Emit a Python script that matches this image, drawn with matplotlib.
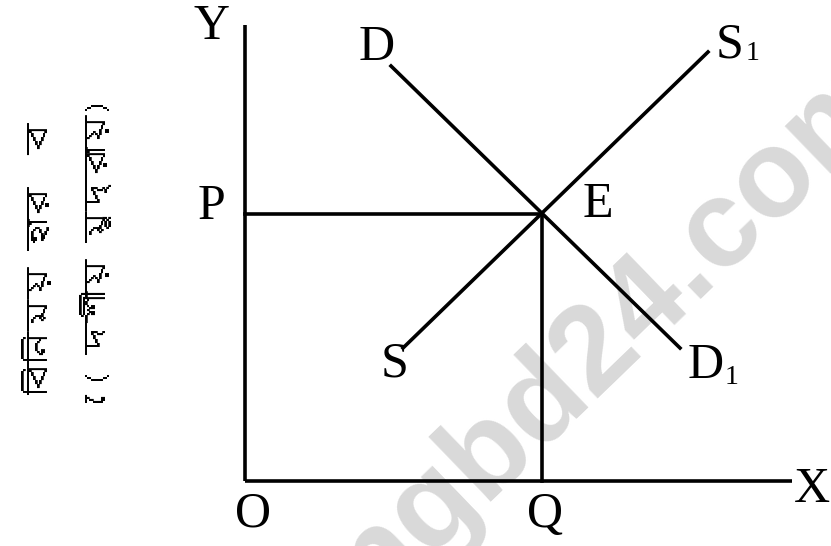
import matplotlib
matplotlib.use("Agg")
import matplotlib.pyplot as plt
from matplotlib import font_manager
from matplotlib.ft2font import FT2Font

# diagram geometry (origin at O, one unit = one pixel of the 831x546 picture)
axis_top = 456
axis_right = 547
eq_point = (297, 267)              # E
demand_x = [146, 435]              # D -> D1
demand_y = [415, 133]
supply_x = [158, 463]              # S -> S1
supply_y = [133, 429]

# point labels: text, x, y
labels = ["Y", "X", "O", "Q", "P", "E", "D", "S", "S", "D"]
label_x = [-33, 567, 8, 300, -34, 353, 132, 485, 150, 461]
label_y = [454, -9, -33, -34, 274, 276, 433, 436, 117, 115]
subs = ["1", "1"]
sub_x = [508, 487]
sub_y = [428, 104]

ylabel_lines = ["বিনিময় হার  ব", "(ে দশীয় মুদ্রায়)"]
ylabel_x = [-206, -133]
ylabel_y = 223

watermark = "ingbd24.com"


def bengali_family():
    # look for any installed font that has Bengali glyphs
    for f in font_manager.fontManager.ttflist:
        try:
            if 0x09AC in FT2Font(f.fname).get_charmap():
                return f.name
        except Exception:
            pass
    return None


bn = bengali_family()
bn_family = [bn, "DejaVu Sans"] if bn else ["Noto Sans", "DejaVu Sans"]

serif = "Liberation Serif"
lw = 2.6

fig = plt.figure(figsize=(8.31, 5.46), dpi=100)
ax = fig.add_axes([0, 0, 1, 1])
ax.set_xlim(-245, 586)
ax.set_ylim(-65, 481)
ax.axis("off")

# watermark behind everything
ax.text(358, 141, watermark, fontsize=90, fontweight="bold", family="Liberation Sans",
        color="#d9d9d9", rotation=44, rotation_mode="anchor", ha="center", va="center",
        zorder=0)

ax.plot([0, 0], [0, axis_top], color="black", lw=lw, solid_capstyle="butt")
ax.plot([0, axis_right], [0, 0], color="black", lw=lw, solid_capstyle="butt")
ax.plot([0, eq_point[0]], [eq_point[1], eq_point[1]], color="black", lw=lw)
ax.plot([eq_point[0], eq_point[0]], [0, eq_point[1]], color="black", lw=lw)
ax.plot(demand_x, demand_y, color="black", lw=lw)
ax.plot(supply_x, supply_y, color="black", lw=lw)

for t, x, y in zip(labels, label_x, label_y):
    ax.text(x, y, t, fontsize=36, family=serif, ha="center", va="center")
for t, x, y in zip(subs, sub_x, sub_y):
    ax.text(x, y, t, fontsize=20, family=serif, ha="center", va="center")

for t, x in zip(ylabel_lines, ylabel_x):
    ax.text(x, ylabel_y, t, fontsize=23, family=bn_family, rotation=90,
            ha="center", va="center")

fig.savefig("out.png", dpi=100)
